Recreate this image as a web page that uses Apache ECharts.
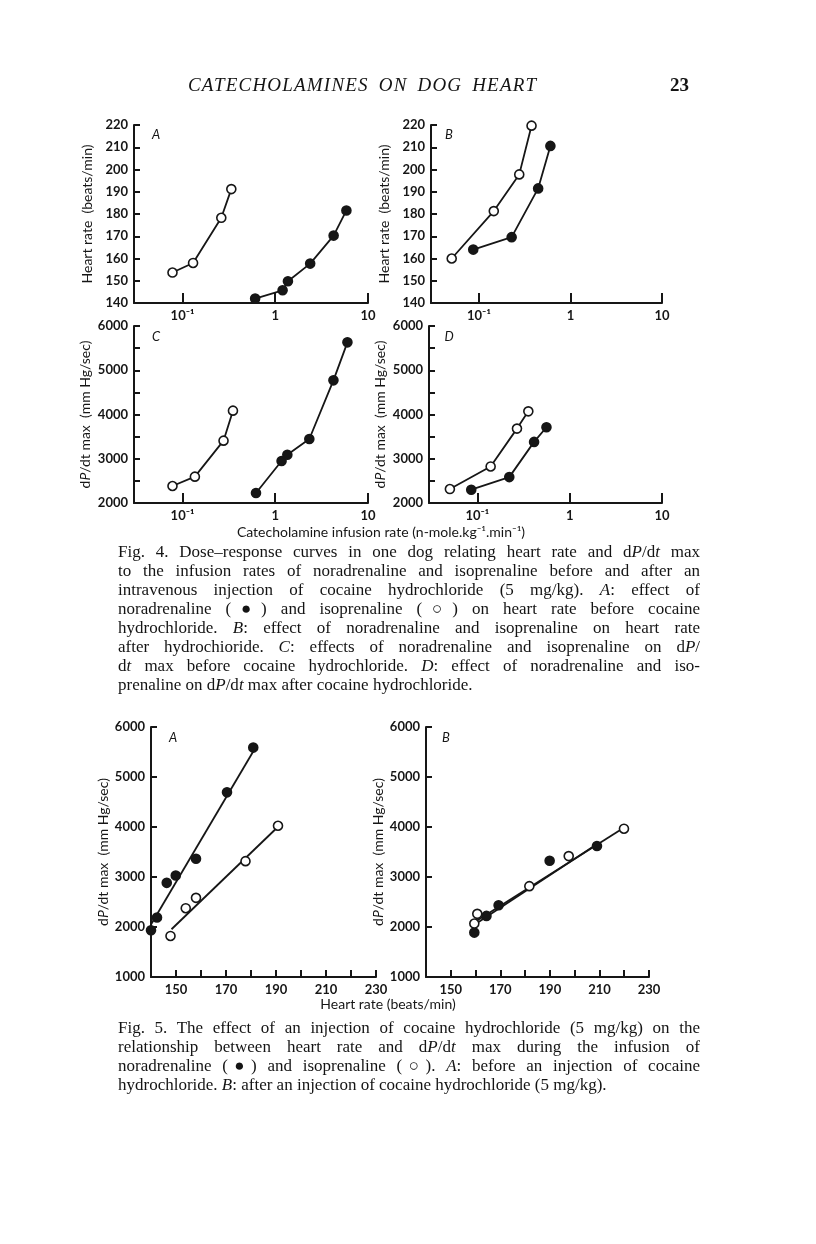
<!DOCTYPE html>
<html>
<head>
<meta charset="utf-8">
<script src="https://cdn.jsdelivr.net/npm/echarts@6/dist/echarts.min.js"></script>
<style>
html,body{margin:0;padding:0;background:#fff;}
#page{position:relative;width:816px;height:1244px;overflow:hidden;background:#fff;}
#chart{position:absolute;left:0;top:0;width:816px;height:1244px;}
.hdr{position:absolute;top:73px;font-family:"Liberation Serif",serif;font-size:19px;color:#141414;line-height:24px;}
.cap{position:absolute;left:118px;width:582px;font-family:"Liberation Serif",serif;font-size:17px;line-height:19px;color:#141414;}
.cap div{text-align:justify;text-align-last:justify;height:19px;white-space:nowrap;}
.cap div.last{text-align-last:left;}
.cap i{font-style:italic;}
</style>
</head>
<body>
<div id="page">
<div id="chart"></div>
<div class="hdr" style="left:188px;font-style:italic;letter-spacing:1.2px;word-spacing:4px;">CATECHOLAMINES ON DOG HEART</div>
<div class="hdr" style="left:670px;font-weight:bold;">23</div>
<div class="cap" style="top:542px;">
<div>Fig. 4. Dose–response curves in one dog relating heart rate and d<i>P</i>/d<i>t</i> max</div>
<div>to the infusion rates of noradrenaline and isoprenaline before and after an</div>
<div>intravenous injection of cocaine hydrochloride (5 mg/kg). <i>A</i>: effect of</div>
<div>noradrenaline (●) and isoprenaline (○) on heart rate before cocaine</div>
<div>hydrochloride. <i>B</i>: effect of noradrenaline and isoprenaline on heart rate</div>
<div>after hydrochioride. <i>C</i>: effects of noradrenaline and isoprenaline on d<i>P</i>/</div>
<div>d<i>t</i> max before cocaine hydrochloride. <i>D</i>: effect of noradrenaline and iso-</div>
<div class="last">prenaline on d<i>P</i>/d<i>t</i> max after cocaine hydrochloride.</div>
</div>
<div class="cap" style="top:1018px;">
<div>Fig. 5. The effect of an injection of cocaine hydrochloride (5 mg/kg) on the</div>
<div>relationship between heart rate and d<i>P</i>/d<i>t</i> max during the infusion of</div>
<div>noradrenaline (●) and isoprenaline (○). <i>A</i>: before an injection of cocaine</div>
<div class="last">hydrochloride. <i>B</i>: after an injection of cocaine hydrochloride (5 mg/kg).</div>
</div>
</div>
<script>
// ---------- DATA ----------
// Fig. 4: infusion rate (n-mole/kg/min) vs heart rate (beats/min) or dP/dt max (mm Hg/sec)
const fig4A_iso_rate = [0.078, 0.130, 0.262, 0.336];
const fig4A_iso_hr   = [153.7, 158.0, 178.3, 191.2];
const fig4A_nor_rate = [0.607, 1.20, 1.37, 2.38, 4.26, 5.85];
const fig4A_nor_hr   = [142.0, 145.7, 149.8, 157.7, 170.3, 181.6];

const fig4B_iso_rate = [0.0505, 0.1455, 0.276, 0.376];
const fig4B_iso_hr   = [160.0, 181.3, 197.8, 219.7];
const fig4B_nor_rate = [0.0868, 0.228, 0.444, 0.604];
const fig4B_nor_hr   = [164.0, 169.6, 191.5, 210.6];

const fig4C_iso_rate = [0.078, 0.136, 0.277, 0.350];
const fig4C_iso_dpdt = [2384, 2595, 3409, 4087];
const fig4C_nor_rate = [0.62, 1.17, 1.35, 2.33, 4.24, 6.0];
const fig4C_nor_dpdt = [2226, 2949, 3092, 3446, 4772, 5631];

const fig4D_iso_rate = [0.0505, 0.1395, 0.269, 0.357];
const fig4D_iso_dpdt = [2315, 2826, 3681, 4071];
const fig4D_nor_rate = [0.086, 0.222, 0.412, 0.561];
const fig4D_nor_dpdt = [2300, 2585, 3381, 3711];

// Fig. 5: heart rate (beats/min) vs dP/dt max (mm Hg/sec)
const fig5A_nor_hr   = [140.0, 142.4, 146.3, 149.9, 158.0, 170.4, 180.9];
const fig5A_nor_dpdt = [1935, 2189, 2883, 3030, 3364, 4693, 5588];
const fig5A_iso_hr   = [147.8, 153.9, 158.0, 177.8, 190.8];
const fig5A_iso_dpdt = [1821, 2376, 2583, 3317, 4025];
const fig5A_nor_line_hr   = [140.0, 181.0];
const fig5A_nor_line_dpdt = [2050, 5520];
const fig5A_iso_line_hr   = [148.2, 190.4];
const fig5A_iso_line_dpdt = [1955, 3985];

const fig5B_nor_hr   = [159.5, 164.4, 169.3, 189.9, 209.0];
const fig5B_nor_dpdt = [1888, 2222, 2436, 3325, 3620];
const fig5B_iso_hr   = [159.5, 160.7, 181.7, 197.6, 219.9];
const fig5B_iso_dpdt = [2069, 2263, 2817, 3418, 3966];
const fig5B_nor_line_hr   = [160.0, 210.0];
const fig5B_nor_line_dpdt = [2060, 3690];
const fig5B_iso_line_hr   = [160.0, 220.0];
const fig5B_iso_line_dpdt = [2110, 3990];

// Tick labels
const logTickLabels = {0.1: '10⁻¹', 1: '1', 10: '10'};
const hrAxisLabels = [150, 170, 190, 210, 230];
const panelLetters = ['A', 'B', 'C', 'D', 'A', 'B'];

// ---------- CHART ----------
const INK = '#161616';
const FONT = 'Lato';
const zip = (a, b) => a.map((v, i) => [v, b[i]]);

const grids = [
  {left: 134, top: 125, width: 234, height: 178},
  {left: 431, top: 125, width: 231, height: 178},
  {left: 134, top: 326, width: 234, height: 177},
  {left: 429, top: 326, width: 233, height: 177},
  {left: 151, top: 727, width: 225, height: 250},
  {left: 426, top: 727, width: 223, height: 250}
];

const labelStyle = {color: INK, fontFamily: FONT, fontWeight: 'bold', fontSize: 13};
const nameStyle = {color: INK, fontFamily: FONT, fontSize: 14,
  rich: {i: {color: INK, fontFamily: FONT, fontSize: 14, fontStyle: 'italic'}}};

function logX(gi) {
  return {
    type: 'log', logBase: 10, gridIndex: gi, min: 0.03, max: 10,
    axisLine: {onZero: false, lineStyle: {color: INK, width: 2}},
    axisTick: {inside: true, length: 10, lineStyle: {color: INK, width: 2}},
    minorTick: {show: false},
    splitLine: {show: false},
    axisLabel: Object.assign({margin: 6, formatter: v => {
      for (const k in logTickLabels) { if (Math.abs(v - Number(k)) < 1e-6 * Number(k)) return logTickLabels[k]; }
      return '';
    }}, labelStyle)
  };
}
function hrX(gi) {
  return {
    type: 'value', gridIndex: gi, min: 140, max: 230, interval: 10,
    axisLine: {onZero: false, lineStyle: {color: INK, width: 2}},
    axisTick: {inside: true, length: 7, lineStyle: {color: INK, width: 2}},
    splitLine: {show: false},
    axisLabel: Object.assign({margin: 6, formatter: v => hrAxisLabels.includes(v) ? String(v) : ''}, labelStyle)
  };
}
function valY(gi, min, max, interval, labelEvery, name, gap) {
  return {
    type: 'value', gridIndex: gi, min, max, interval,
    name, nameLocation: 'middle', nameGap: gap, nameTextStyle: nameStyle,
    axisLine: {onZero: false, lineStyle: {color: INK, width: 2}},
    axisTick: {inside: true, length: 6, lineStyle: {color: INK, width: 2}},
    splitLine: {show: false},
    axisLabel: Object.assign({margin: 6, formatter: v => (v % labelEvery === 0 ? String(v) : '')}, labelStyle)
  };
}

const HR_NAME = 'Heart rate  (beats/min)';
const DP_NAME = 'd{i|P}/dt max  (mm Hg/sec)';

function doseLine(gi, xs, ys, filled) {
  return {
    type: 'line', xAxisIndex: gi, yAxisIndex: gi, data: zip(xs, ys),
    symbol: 'circle', symbolSize: 9, showAllSymbol: true, clip: false,
    lineStyle: {color: INK, width: 1.8},
    itemStyle: {color: filled ? INK : '#ffffff', borderColor: INK, borderWidth: 1.6},
    z: filled ? 3 : 4
  };
}
function fitLine(gi, xs, ys) {
  return {
    type: 'line', xAxisIndex: gi, yAxisIndex: gi, data: zip(xs, ys),
    symbol: 'none', clip: false, lineStyle: {color: INK, width: 1.8}, z: 2
  };
}
function pts(gi, xs, ys, filled) {
  return {
    type: 'scatter', xAxisIndex: gi, yAxisIndex: gi, data: zip(xs, ys),
    symbol: 'circle', symbolSize: 9, clip: false,
    itemStyle: {color: filled ? INK : '#ffffff', borderColor: INK, borderWidth: 1.6, opacity: 1},
    z: filled ? 5 : 6
  };
}

const letterPos = [[156, 135], [449, 135], [156, 337], [449, 337], [173, 738], [446, 738]];

const option = {
  animation: false,
  backgroundColor: 'transparent',
  grid: grids.map(g => Object.assign({containLabel: false}, g)),
  xAxis: [logX(0), logX(1), logX(2), logX(3), hrX(4), hrX(5)],
  yAxis: [
    valY(0, 140, 220, 10, 10, HR_NAME, 40),
    valY(1, 140, 220, 10, 10, HR_NAME, 40),
    valY(2, 2000, 6000, 500, 1000, DP_NAME, 42),
    valY(3, 2000, 6000, 500, 1000, DP_NAME, 42),
    valY(4, 1000, 6000, 1000, 1000, DP_NAME, 40),
    valY(5, 1000, 6000, 1000, 1000, DP_NAME, 40)
  ],
  series: [
    doseLine(0, fig4A_iso_rate, fig4A_iso_hr, false),
    doseLine(0, fig4A_nor_rate, fig4A_nor_hr, true),
    doseLine(1, fig4B_iso_rate, fig4B_iso_hr, false),
    doseLine(1, fig4B_nor_rate, fig4B_nor_hr, true),
    doseLine(2, fig4C_iso_rate, fig4C_iso_dpdt, false),
    doseLine(2, fig4C_nor_rate, fig4C_nor_dpdt, true),
    doseLine(3, fig4D_iso_rate, fig4D_iso_dpdt, false),
    doseLine(3, fig4D_nor_rate, fig4D_nor_dpdt, true),
    fitLine(4, fig5A_nor_line_hr, fig5A_nor_line_dpdt),
    fitLine(4, fig5A_iso_line_hr, fig5A_iso_line_dpdt),
    pts(4, fig5A_nor_hr, fig5A_nor_dpdt, true),
    pts(4, fig5A_iso_hr, fig5A_iso_dpdt, false),
    fitLine(5, fig5B_nor_line_hr, fig5B_nor_line_dpdt),
    fitLine(5, fig5B_iso_line_hr, fig5B_iso_line_dpdt),
    pts(5, fig5B_nor_hr, fig5B_nor_dpdt, true),
    pts(5, fig5B_iso_hr, fig5B_iso_dpdt, false)
  ],
  graphic: [
    ...panelLetters.map((t, i) => ({
      type: 'text', x: letterPos[i][0], y: letterPos[i][1], silent: true,
      style: {text: t, font: 'italic 13px Lato', fill: INK, textAlign: 'center', align: 'center',
              textVerticalAlign: 'middle', verticalAlign: 'middle'}
    })),
    {type: 'text', x: 381, y: 532, silent: true,
     style: {text: 'Catecholamine infusion rate (n-mole.kg⁻¹.min⁻¹)', font: '14px Lato', fill: INK,
             textAlign: 'center', align: 'center', textVerticalAlign: 'middle', verticalAlign: 'middle'}},
    {type: 'text', x: 388, y: 1004, silent: true,
     style: {text: 'Heart rate (beats/min)', font: '14px Lato', fill: INK,
             textAlign: 'center', align: 'center', textVerticalAlign: 'middle', verticalAlign: 'middle'}}
  ]
};

const chart = echarts.init(document.getElementById('chart'), null, {renderer: 'canvas', width: 816, height: 1244});
chart.setOption(option);
</script>
</body>
</html>
